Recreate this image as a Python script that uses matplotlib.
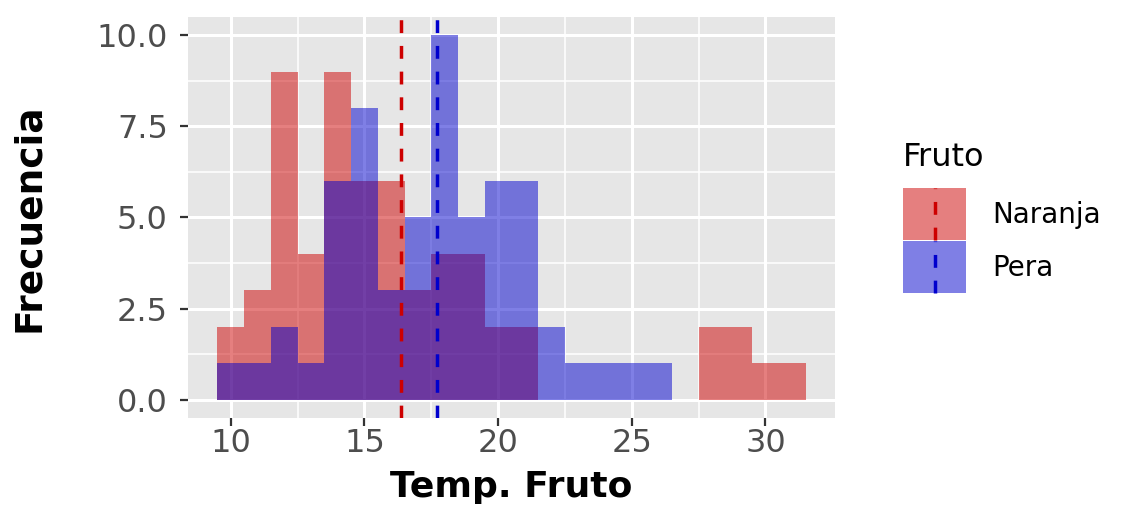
import numpy as np
import matplotlib
matplotlib.use("Agg")
import matplotlib.pyplot as plt
from matplotlib.patches import Patch, Rectangle
from matplotlib.lines import Line2D
from matplotlib.legend_handler import HandlerBase

# datos (conteos por clase de ancho 1, centros enteros)
centros = list(range(10, 32))
naranja = [2, 3, 9, 4, 9, 6, 6, 3, 4, 4, 2, 2, 0, 0, 0, 0, 0, 0, 2, 2, 1, 1]
pera = [1, 1, 2, 1, 6, 8, 3, 5, 10, 5, 6, 6, 2, 1, 1, 1, 1, 0, 0, 0, 0, 0]
media_naranja = 16.37
media_pera = 17.7

grupos = ["Naranja", "Pera"]
x_ticks = [10, 15, 20, 25, 30]
y_ticks = [0, 2.5, 5, 7.5, 10]
y_tick_labels = ["0.0", "2.5", "5.0", "7.5", "10.0"]

rojo = "#CD0000"
azul = "#0000CD"
dash = (3.7, 3.7)

plt.rcParams["font.family"] = ["DejaVu Sans"]

fig = plt.figure(figsize=(11.26, 5.08), dpi=100)
ax = fig.add_axes([188 / 1126, 1 - 418 / 508, (835 - 188) / 1126, (418 - 17) / 508])
ax.set_facecolor("#E6E6E6")

# rejilla estilo ggplot
ax.set_xticks(x_ticks)
ax.set_xticks([12.5, 17.5, 22.5, 27.5], minor=True)
ax.set_yticks(y_ticks)
ax.set_yticklabels(y_tick_labels)
ax.set_yticks([1.25, 3.75, 6.25, 8.75], minor=True)
ax.grid(which="major", color="white", lw=2.2)
ax.grid(which="minor", color="white", lw=1.1)
ax.set_axisbelow(True)

ax.bar(centros, naranja, width=1, color=rojo, alpha=0.5, lw=0)
ax.bar(centros, pera, width=1, color=azul, alpha=0.5, lw=0)

ax.axvline(media_naranja, color=rojo, lw=2.5, dashes=dash)
ax.axvline(media_pera, color=azul, lw=2.5, dashes=dash)

ax.set_xlim(8.4, 32.6)
ax.set_ylim(-0.5, 10.5)
for s in ax.spines.values():
    s.set_visible(False)

ax.tick_params(which="major", length=5.5, width=1.6, color="#333333",
               labelcolor="#4D4D4D", labelsize=23)
ax.tick_params(axis="x", pad=2)
ax.tick_params(axis="y", pad=9)
ax.tick_params(which="minor", length=0)

ax.set_xlabel("Temp. Fruto", fontsize=26, fontweight="bold")
ax.set_ylabel("Frecuencia", fontsize=27, fontweight="bold")
ax.xaxis.set_label_coords(0.5, -(470 - 418) / 401)
ax.yaxis.set_label_coords((47 - 188) / 647, 0.5)


class KeyHandler(HandlerBase):
    def __init__(self, color):
        super().__init__()
        self.color = color

    def create_artists(self, legend, orig_handle, xdescent, ydescent,
                       width, height, fontsize, trans):
        r = Rectangle((-xdescent, -ydescent), width, height,
                      facecolor=self.color, alpha=0.5, lw=0, transform=trans)
        xm = -xdescent + width / 2
        l = Line2D([xm, xm], [-ydescent, height - ydescent], color=self.color,
                   lw=2.5, dashes=dash, transform=trans)
        return [r, l]


h1 = Patch(label=grupos[0])
h2 = Patch(label=grupos[1])
leg = fig.legend(handles=[h1, h2], labels=grupos, title="Fruto",
                 handler_map={h1: KeyHandler(rojo), h2: KeyHandler(azul)},
                 loc="upper left", bbox_to_anchor=(903 / 1126, 1 - 142 / 508),
                 frameon=False, fontsize=20, title_fontsize=23,
                 handlelength=2.27, handleheight=2.5, labelspacing=0.04,
                 handletextpad=0.95, borderpad=0, borderaxespad=0,
                 alignment="left")
leg._legend_box.sep = 11

fig.savefig("out.png", dpi=100)
